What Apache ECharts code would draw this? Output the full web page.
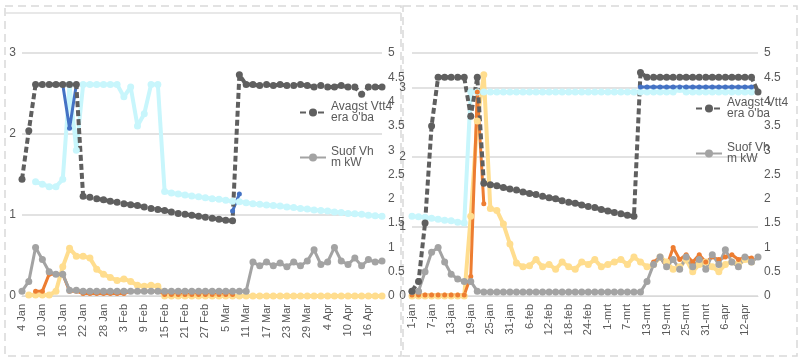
<!DOCTYPE html>
<html><head><meta charset="utf-8">
<script src="https://cdn.jsdelivr.net/npm/echarts@6/dist/echarts.min.js"></script>
<style>html,body{margin:0;padding:0;background:#fff}#c{width:800px;height:362px}</style>
</head><body><div id="c"></div>
<script>
// ---------- data ----------
const catsLeft = ['4 Jan','6 Jan','8 Jan','10 Jan','12 Jan','14 Jan','16 Jan','18 Jan','20 Jan','22 Jan','24 Jan','26 Jan','28 Jan','30 Jan','1 Feb','3 Feb','5 Feb','7 Feb','9 Feb','11 Feb','13 Feb','15 Feb','17 Feb','19 Feb','21 Feb','23 Feb','25 Feb','27 Feb','1 Mar','3 Mar','5 Mar','7 Mar','9 Mar','11 Mar','13 Mar','15 Mar','17 Mar','19 Mar','21 Mar','23 Mar','25 Mar','27 Mar','29 Mar','31 Mar','2 Apr','4 Apr','6 Apr','8 Apr','10 Apr','12 Apr','14 Apr','16 Apr','18 Apr','20 Apr'];
const catsRight = ['1-jan','3-jan','5-jan','7-jan','9-jan','11-jan','13-jan','15-jan','17-jan','19-jan','21-jan','23-jan','25-jan','27-jan','29-jan','31-jan','2-feb','4-feb','6-feb','8-feb','10-feb','12-feb','14-feb','16-feb','18-feb','20-feb','22-feb','24-feb','26-feb','28-feb','1-mrt','3-mrt','5-mrt','7-mrt','9-mrt','11-mrt','13-mrt','15-mrt','17-mrt','19-mrt','21-mrt','23-mrt','25-mrt','27-mrt','29-mrt','31-mrt','2-apr','4-apr','6-apr','8-apr','10-apr','12-apr','14-apr','16-apr'];

const nameAvg = 'Avagst Vtt4\nera o\'ba';
const nameSun = 'Suof Vh\nm kW';

// left panel
const darkL = [2.4,3.4,4.35,4.35,4.35,4.35,4.35,4.35,4.35,2.05,2.03,2.0,1.98,1.95,1.93,1.9,1.88,1.86,1.83,1.8,1.78,1.76,1.73,1.7,1.68,1.66,1.64,1.62,1.6,1.58,1.56,1.55,4.55,4.35,4.35,4.33,4.35,4.33,4.35,4.33,4.33,4.35,4.33,4.3,4.33,4.3,4.3,4.33,4.3,4.3,4.15,4.3,4.3,4.3];
const grayL = [0.1,0.3,1.0,0.75,0.5,0.45,0.45,0.12,0.12,0.1,0.1,0.1,0.1,0.1,0.1,0.1,0.1,0.1,0.1,0.1,0.1,0.1,0.1,0.1,0.1,0.1,0.1,0.1,0.1,0.1,0.1,0.1,0.1,0.1,0.7,0.62,0.7,0.62,0.68,0.6,0.7,0.62,0.72,0.95,0.65,0.7,1.0,0.72,0.65,0.78,0.62,0.75,0.7,0.72];
const cyanL = [null,null,2.35,2.3,2.25,2.25,2.4,4.35,3.0,4.35,4.35,4.35,4.35,4.35,4.35,4.1,4.3,3.5,3.75,4.35,4.35,2.15,2.12,2.1,2.08,2.06,2.04,2.02,2.0,1.99,1.97,1.95,1.94,1.92,1.9,1.89,1.87,1.86,1.85,1.83,1.82,1.8,1.79,1.77,1.76,1.75,1.73,1.72,1.7,1.69,1.68,1.66,1.65,1.64];
const blueL = [null,null,null,null,null,null,4.35,3.45,4.35,null,null,null,null,null,null,null,null,null,null,null,null,null,null,null,null,null,null,null,null,null,null,1.75,2.1,null,null,null,null,null,null,null,null,null,null,null,null,null,null,null,null,null,null,null,null,null];
const orangeL = [null,null,0.1,0.1,0.45,0.45,0.45,0.1,0.1,0.05,0.05,0.05,0.05,0.05,0.05,0.05,0.1,0.1,0.1,0.1,0.1,0.03,0.03,0.03,0.03,0.03,0.03,0.03,0.03,0.03,0.03,0.03,null,null,null,null,null,null,null,null,null,null,null,null,null,null,null,null,null,null,null,null,null,null];
const peachL = [null,0.02,0.02,0.02,0.02,0.1,0.6,0.98,0.82,0.82,0.78,0.55,0.45,0.38,0.32,0.35,0.3,0.22,0.2,0.22,0.2,0.0,0.0,0.0,0.0,0.0,0.0,0.0,0.0,0.0,0.0,0.0,0.0,0.0,0.0,0.0,0.0,0.0,0.0,0.0,0.0,0.0,0.0,0.0,0.0,0.0,0.0,0.0,0.0,0.0,0.0,0.0,0.0,0.0];

// right panel
const darkR = [0.1,0.3,1.5,3.5,4.5,4.5,4.5,4.5,4.5,3.7,4.5,2.32,2.29,2.27,2.23,2.2,2.18,2.14,2.11,2.09,2.05,2.02,2.0,1.96,1.93,1.91,1.87,1.84,1.82,1.78,1.75,1.72,1.69,1.66,1.64,4.6,4.5,4.5,4.5,4.5,4.5,4.5,4.5,4.5,4.5,4.5,4.5,4.5,4.5,4.5,4.5,4.5,4.5,4.2];
const grayR = [0.1,0.1,0.5,0.9,1.0,0.7,0.45,0.35,0.3,0.3,0.1,0.08,0.08,0.08,0.08,0.08,0.08,0.08,0.08,0.08,0.08,0.08,0.08,0.08,0.08,0.08,0.08,0.08,0.08,0.08,0.08,0.08,0.08,0.08,0.08,0.08,0.3,0.65,0.8,0.6,0.75,0.55,0.8,0.6,0.75,0.55,0.85,0.65,0.95,0.7,0.6,0.8,0.7,0.8];
const cyanR = [1.64,1.63,1.62,1.6,1.58,1.56,1.55,1.52,1.5,4.2,4.2,4.2,4.2,4.2,4.2,4.2,4.2,4.2,4.2,4.2,4.2,4.2,4.2,4.2,4.2,4.2,4.2,4.2,4.2,4.2,4.2,4.2,4.2,4.2,4.2,4.2,4.2,4.2,4.2,4.2,4.2,4.25,4.2,4.2,4.2,4.2,4.2,4.2,4.2,4.2,4.2,4.2,4.2,null];
const blueR = [null,null,null,null,null,null,null,null,null,null,null,null,null,null,null,null,null,null,null,null,null,null,null,null,null,null,null,null,null,null,null,null,null,null,null,4.3,4.3,4.3,4.3,4.3,4.3,4.3,4.3,4.3,4.3,4.3,4.3,4.3,4.3,4.3,4.3,4.3,4.3,null];
const orangeR = [0.02,0.02,0.02,0.02,0.02,0.02,0.02,0.02,0.02,0.4,4.2,1.9,null,null,null,null,null,null,null,null,null,null,null,null,null,null,null,null,null,null,null,null,null,null,null,null,null,0.7,0.8,0.6,1.0,0.75,0.85,0.7,0.85,0.7,0.8,0.75,0.8,0.85,0.75,0.8,0.78,null];
const peachR = [0.0,0.0,0.0,0.0,0.0,0.0,0.0,0.0,0.0,1.64,3.6,4.55,1.8,1.76,1.48,1.07,0.68,0.6,0.62,0.75,0.6,0.65,0.55,0.7,0.6,0.55,0.7,0.65,0.75,0.6,0.65,0.7,0.75,0.65,0.8,0.7,0.6,0.65,0.8,0.7,0.55,0.6,0.75,0.5,0.65,0.7,0.6,0.5,0.65,0.7,0.65,0.75,0.7,null];

// ---------- chart ----------
const C = {dark:'#5f5f5f', gray:'#a3a3a3', cyan:'#c8f6fc', blue:'#4472c4', orange:'#ed7d31', peach:'#ffdd8e'};
const txt = '#595959';
const chart = echarts.init(document.getElementById('c'), null, {renderer:'canvas'});

function xAxis(gi, data){
  return {type:'category', gridIndex:gi, data:data, boundaryGap:false,
    axisLine:{show:true, lineStyle:{color:'#d9d9d9'}}, axisTick:{show:false},
    axisLabel:{rotate:90, interval:2, color:txt, fontSize:11, fontFamily:'Liberation Sans', margin:8}};
}
function yLeft(gi, max){
  return {type:'value', gridIndex:gi, min:0, max:max, interval:1, position:'left',
    axisLine:{show:false}, axisTick:{show:false},
    axisLabel:{color:txt, fontSize:12, fontFamily:'Liberation Sans', margin:6, showMaxLabel: max===3},
    splitLine:{lineStyle:{color:'#d9d9d9', width:1.5}}};
}
function yRight(gi){
  return {type:'value', gridIndex:gi, min:0, max:5, interval:0.5, position:'right',
    axisLine:{show:false}, axisTick:{show:false},
    axisLabel:{color:txt, fontSize:12, fontFamily:'Liberation Sans', margin:6},
    splitLine:{show:false}};
}
function line(name, xi, yi, data, color, width, opts){
  return Object.assign({name:name, type:'line', xAxisIndex:xi, yAxisIndex:yi, data:data,
    symbol:'circle', symbolSize:6, showSymbol:true, showAllSymbol:true, connectNulls:false,
    lineStyle:{color:color, width:width}, itemStyle:{color:color}, emphasis:{disabled:true}}, opts||{});
}

const series = [];
[[0,1,darkL,grayL,cyanL,blueL,orangeL,peachL],[1,3,darkR,grayR,cyanR,blueR,orangeR,peachR]].forEach(p=>{
  const [xi,yi,dk,gr,cy,bl,or,pe] = p;
  series.push(line('cyan'+xi, xi, yi, cy, C.cyan, 4, {symbolSize:7}));
  series.push(line('peach'+xi, xi, yi, pe, C.peach, 4, {symbolSize:7}));
  series.push(line('orange'+xi, xi, yi, or, C.orange, 3, {symbolSize:5}));
  series.push(line(nameSun, xi, yi, gr, C.gray, 3, {symbolSize:7}));
  series.push(line('blue'+xi, xi, yi, bl, C.blue, 3, {symbolSize:5}));
  series.push(line(nameAvg, xi, yi, dk, C.dark, 4, {symbolSize:7, lineStyle:{color:C.dark, width:4, type:[6,3]}}));
});

const legendCommon = {orient:'vertical', itemWidth:26, itemHeight:10, itemGap:22,
  textStyle:{color:txt, fontSize:12, fontFamily:'Liberation Sans', lineHeight:11},
  data:[nameAvg, nameSun], selectedMode:false};

chart.setOption({
  animation:false,
  backgroundColor:'#fff',
  grid:[
    {left:22, right:418, top:53, bottom:66, containLabel:false},
    {left:412, right:42, top:53, bottom:66, containLabel:false}
  ],
  xAxis:[xAxis(0,catsLeft), xAxis(1,catsRight)],
  yAxis:[yLeft(0,3), yRight(0), yLeft(1,3.5), yRight(1)],
  legend:[
    Object.assign({left:294, top:96}, legendCommon),
    Object.assign({left:690, top:92}, legendCommon)
  ],
  graphic:[
    {type:'rect', shape:{x:5, y:6, width:396, height:350}, style:{fill:null, stroke:'#d9d9d9', lineWidth:1.5, lineDash:[8,5]}, silent:true, z:-1},
    {type:'rect', shape:{x:403, y:6, width:394, height:350}, style:{fill:null, stroke:'#d9d9d9', lineWidth:1.5, lineDash:[8,5]}, silent:true, z:-1},
    {type:'line', shape:{x1:5, y1:13, x2:401, y2:13}, style:{stroke:'#e0e0e0', lineWidth:1.5}, silent:true, z:-1}
  ],
  series:series
});
</script></body></html>
